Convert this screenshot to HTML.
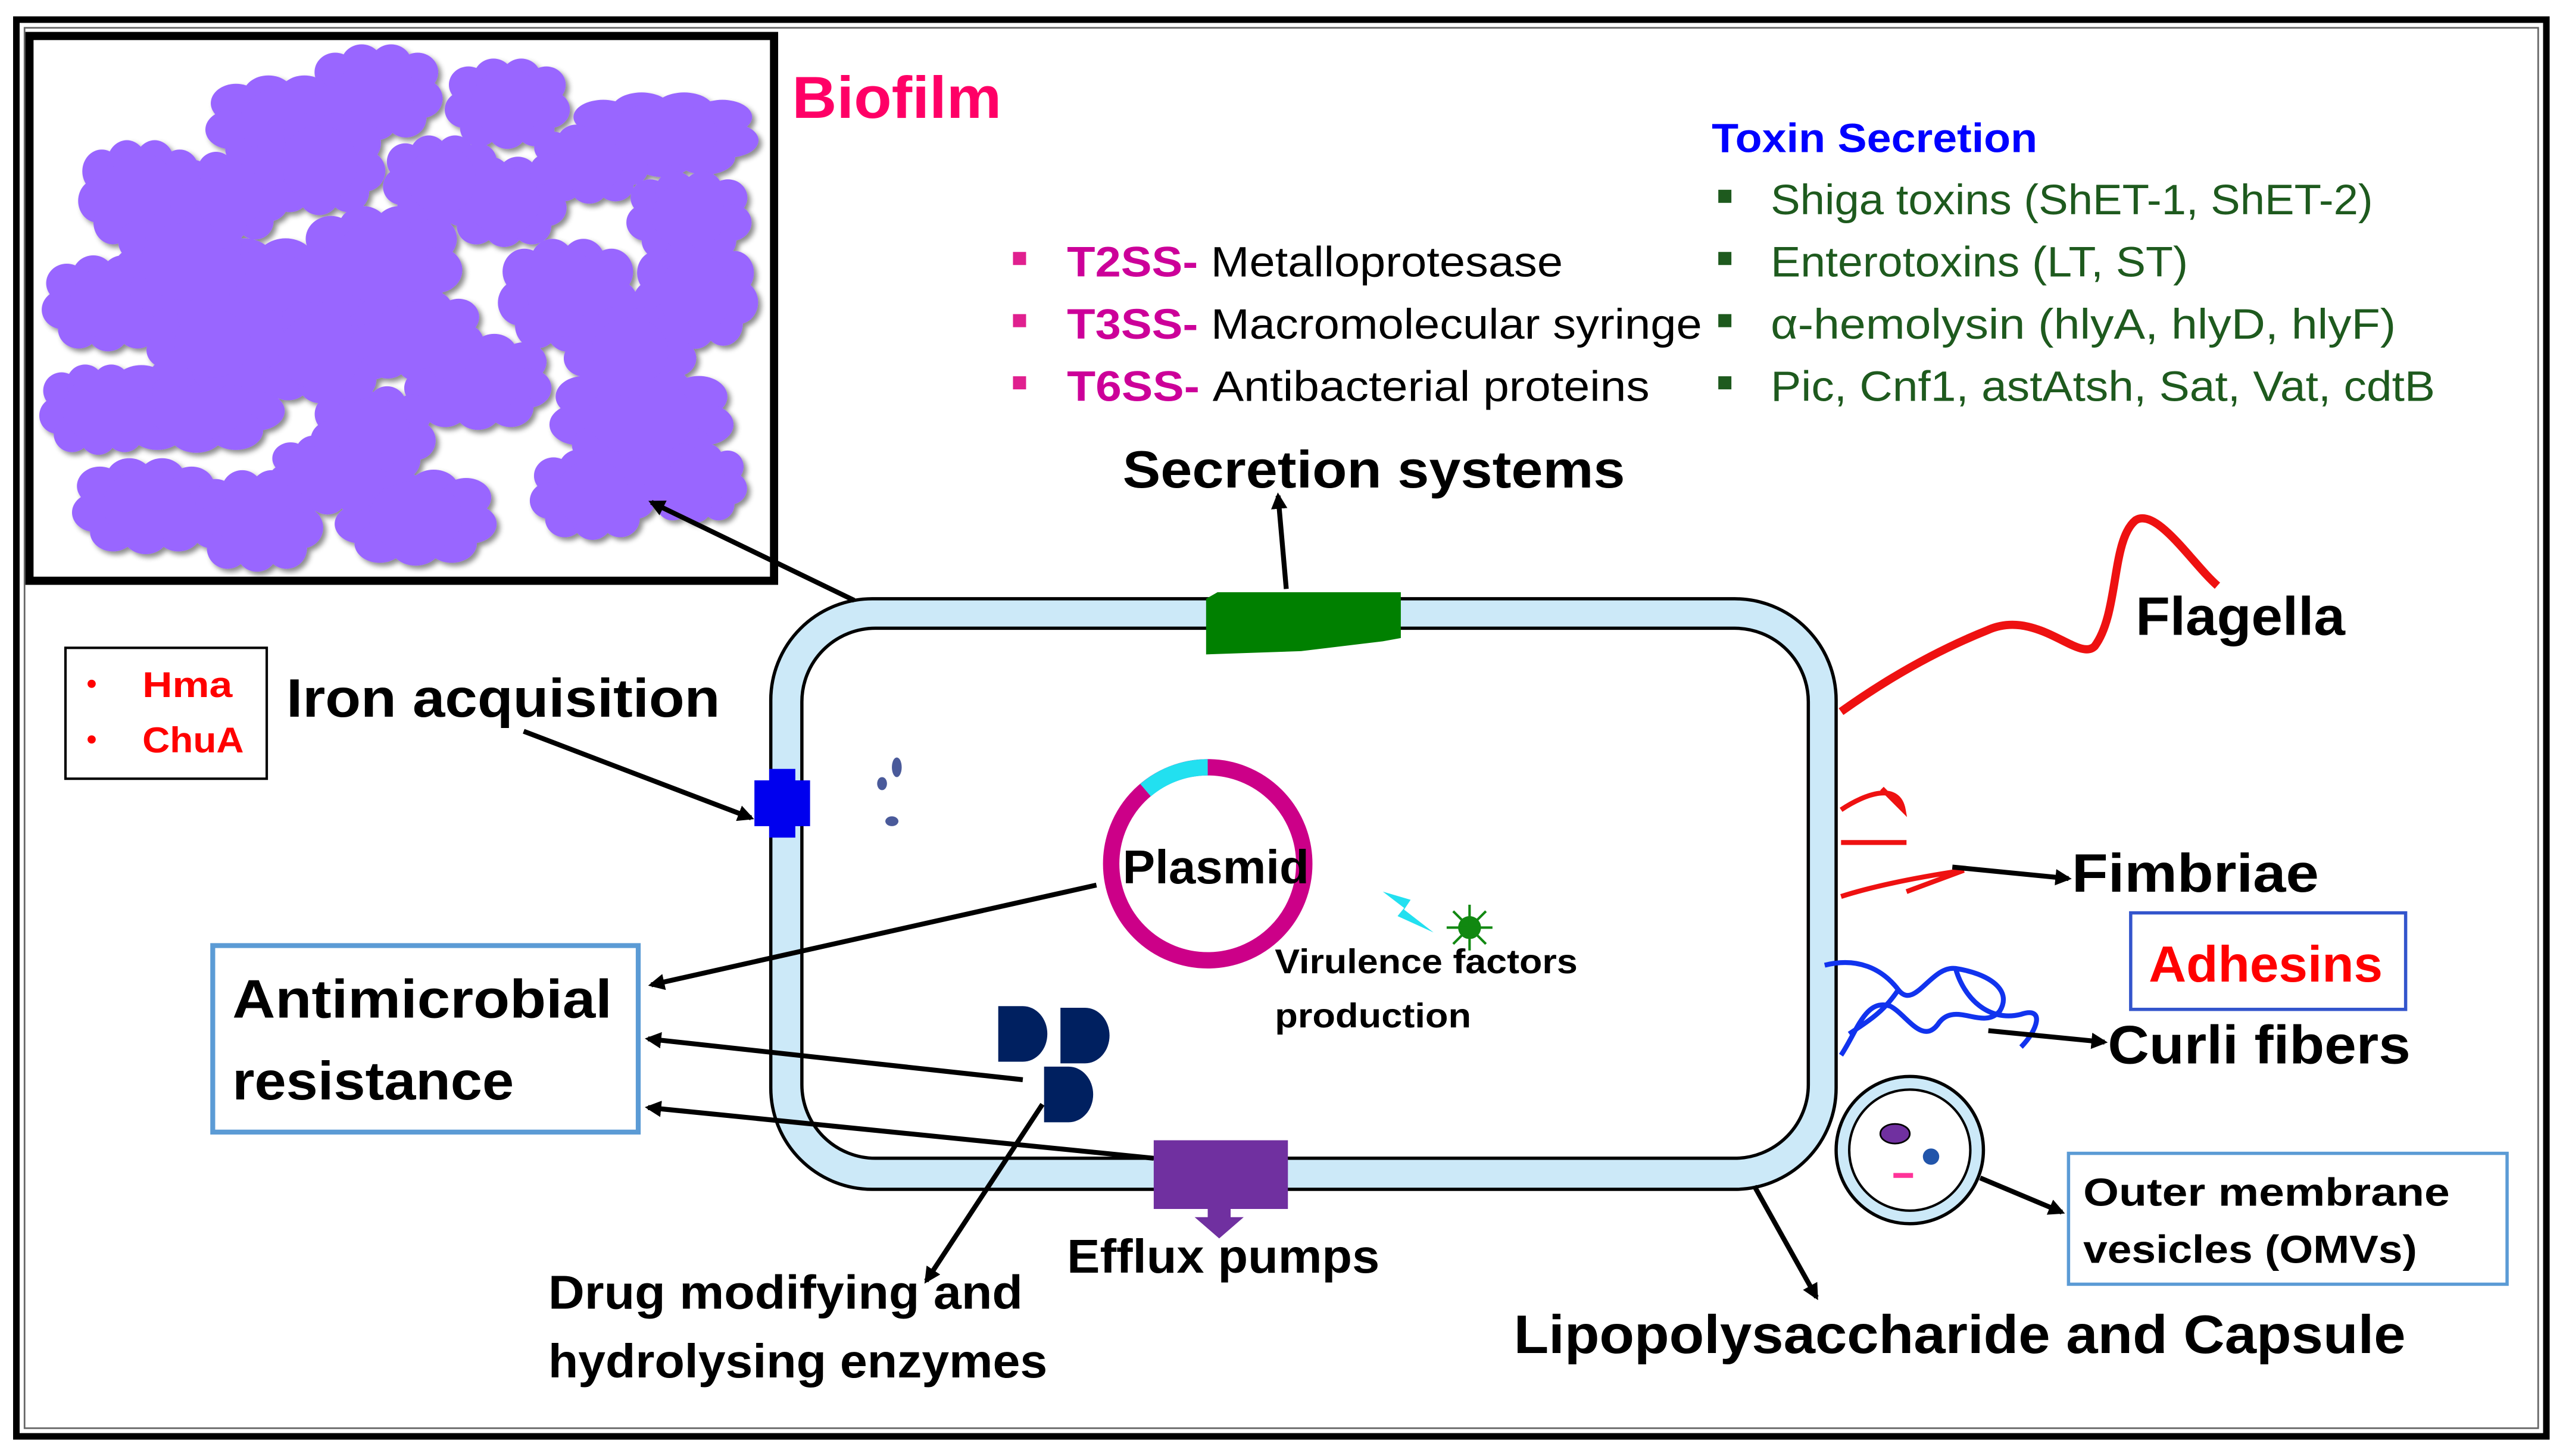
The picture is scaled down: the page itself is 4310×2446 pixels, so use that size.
<!DOCTYPE html>
<html><head><meta charset="utf-8"><style>
html,body{margin:0;padding:0;background:#fff}
svg{display:block}
text{font-family:"Liberation Sans",sans-serif}
.b{font-weight:bold}
</style></head><body>
<svg width="4310" height="2446" viewBox="0 0 1568 890" preserveAspectRatio="none" xmlns="http://www.w3.org/2000/svg">
<defs>
<marker id="ar" markerWidth="10" markerHeight="10" refX="8" refY="5" orient="auto" markerUnits="userSpaceOnUse"><path d="M0,0 L10,5 L0,10 Z" fill="#000"/></marker>
<g id="cl">
<circle cx="-28" cy="-14" r="14"/><circle cx="-10" cy="-20" r="14"/><circle cx="10" cy="-20" r="14"/><circle cx="28" cy="-14" r="14"/>
<circle cx="-31" cy="5" r="14"/><circle cx="31" cy="5" r="14"/><circle cx="-20" cy="19" r="14"/><circle cx="0" cy="21" r="14"/><circle cx="20" cy="19" r="14"/><circle cx="0" cy="0" r="26"/>
</g>
<filter id="sh" x="-20%" y="-20%" width="140%" height="140%"><feDropShadow dx="2" dy="2" stdDeviation="1.5" flood-color="#000" flood-opacity="0.45"/></filter>
</defs>
<rect x="10" y="12" width="1546" height="866" fill="#fff" stroke="#000" stroke-width="4"/>
<rect x="15" y="17" width="1536" height="856" fill="none" stroke="#666" stroke-width="1"/>
<!-- Biofilm -->
<rect x="18" y="22" width="455" height="333" fill="#fff" stroke="#000" stroke-width="5"/>
<g fill="#9966ff" filter="url(#sh)">
<use href="#cl" transform="translate(230,56) scale(0.9,0.85)"/>
<use href="#cl" transform="translate(175,75) scale(1.1,0.85)"/>
<use href="#cl" transform="translate(310,63) scale(0.85,0.8)"/>
<use href="#cl" transform="translate(405,82) scale(1.3,0.75)"/>
<use href="#cl" transform="translate(86,118) scale(0.85,0.95)"/>
<use href="#cl" transform="translate(195,100) scale(0.9,0.9)"/>
<use href="#cl" transform="translate(308,123) scale(0.85,0.8)"/>
<use href="#cl" transform="translate(421,132) scale(0.85,0.8)"/>
<use href="#cl" transform="translate(66,185) scale(0.9,0.85)"/>
<use href="#cl" transform="translate(162,178) scale(1.25,0.95)"/>
<use href="#cl" transform="translate(233,160) scale(1.1,1)"/>
<use href="#cl" transform="translate(347,180) scale(0.95,1)"/>
<use href="#cl" transform="translate(425,180) scale(0.85,0.95)"/>
<use href="#cl" transform="translate(292,233) scale(1,0.85)"/>
<use href="#cl" transform="translate(120,247) scale(1.2,0.85)"/>
<use href="#cl" transform="translate(392,255) scale(1.25,0.9)"/>
<use href="#cl" transform="translate(228,265) scale(0.85,0.85)"/>
<use href="#cl" transform="translate(89,309) scale(1,0.85)"/>
<use href="#cl" transform="translate(157,318) scale(0.9,0.9)"/>
<use href="#cl" transform="translate(254,316) scale(1.1,0.85)"/>
<use href="#cl" transform="translate(362,302) scale(0.85,0.8)"/>
<use href="#cl" transform="translate(196,215) scale(1,0.9)"/>
<use href="#cl" transform="translate(110,160) scale(0.9,0.9)"/>
<use href="#cl" transform="translate(130,210) scale(0.9,0.8)"/>
<use href="#cl" transform="translate(255,205) scale(0.9,0.8)"/>
<use href="#cl" transform="translate(385,215) scale(0.9,0.8)"/>
<use href="#cl" transform="translate(270,110) scale(0.8,0.8)"/>
<use href="#cl" transform="translate(360,100) scale(0.8,0.7)"/>
<use href="#cl" transform="translate(60,250) scale(0.8,0.8)"/>
<use href="#cl" transform="translate(425,295) scale(0.7,0.7)"/>
<use href="#cl" transform="translate(200,290) scale(0.8,0.7)"/>
<use href="#cl" transform="translate(140,120) scale(0.8,0.8)"/>
</g>
<text x="484" y="72" class="b" font-size="36" fill="#ff0066" textLength="128" lengthAdjust="spacingAndGlyphs">Biofilm</text>
<!-- Toxin secretion -->
<text x="1046" y="93" class="b" font-size="25" fill="#0000ff" textLength="199" lengthAdjust="spacingAndGlyphs">Toxin Secretion</text>
<g fill="#1e5a1e" font-size="26">
<rect x="1050" y="116" width="8" height="8"/><text x="1082" y="131" textLength="368" lengthAdjust="spacingAndGlyphs">Shiga toxins (ShET-1, ShET-2)</text>
<rect x="1050" y="154" width="8" height="8"/><text x="1082" y="169" textLength="255" lengthAdjust="spacingAndGlyphs">Enterotoxins (LT, ST)</text>
<rect x="1050" y="192" width="8" height="8"/><text x="1082" y="207" textLength="382" lengthAdjust="spacingAndGlyphs">α-hemolysin (hlyA, hlyD, hlyF)</text>
<rect x="1050" y="230" width="8" height="8"/><text x="1082" y="245" textLength="406" lengthAdjust="spacingAndGlyphs">Pic, Cnf1, astAtsh, Sat, Vat, cdtB</text>
</g>
<g font-size="26">
<rect x="619" y="154" width="8" height="8" fill="#e0208f"/><text x="652" y="169" textLength="303" lengthAdjust="spacingAndGlyphs"><tspan class="b" fill="#cc0099">T2SS- </tspan>Metalloprotesase</text>
<rect x="619" y="192" width="8" height="8" fill="#e0208f"/><text x="652" y="207" textLength="388" lengthAdjust="spacingAndGlyphs"><tspan class="b" fill="#cc0099">T3SS- </tspan>Macromolecular syringe</text>
<rect x="619" y="230" width="8" height="8" fill="#e0208f"/><text x="652" y="245" textLength="356" lengthAdjust="spacingAndGlyphs"><tspan class="b" fill="#cc0099">T6SS- </tspan>Antibacterial proteins</text>
</g>
<text x="686" y="298" class="b" font-size="32" textLength="307" lengthAdjust="spacingAndGlyphs">Secretion systems</text>
<!-- cell -->
<rect x="471" y="366" width="651" height="361" rx="62" fill="#cce9f8" stroke="#000" stroke-width="2"/>
<rect x="490" y="384" width="615" height="324" rx="45" fill="#fff" stroke="#000" stroke-width="2"/>
<path d="M737,366 L744,362 L856,362 L856,390 L845,392 L795,398 L737,400 Z" fill="#008000"/>
<line x1="786" y1="360" x2="781" y2="303" stroke="#000" stroke-width="3" marker-end="url(#ar)"/>
<line x1="522" y1="367" x2="398" y2="307" stroke="#000" stroke-width="3" marker-end="url(#ar)"/>
<!-- iron -->
<rect x="461" y="477" width="34" height="28" fill="#0000ee"/><rect x="470" y="470" width="16" height="42" fill="#0000ee"/>
<rect x="40" y="396" width="123" height="80" fill="#fff" stroke="#000" stroke-width="1.5"/>
<g fill="#ff0000" class="b" font-size="22"><circle cx="56" cy="418" r="2.5"/><text x="87" y="426" textLength="55" lengthAdjust="spacingAndGlyphs">Hma</text>
<circle cx="56" cy="452" r="2.5"/><text x="87" y="460" textLength="62" lengthAdjust="spacingAndGlyphs">ChuA</text></g>
<text x="175" y="438" class="b" font-size="33" textLength="265" lengthAdjust="spacingAndGlyphs">Iron acquisition</text>
<line x1="320" y1="447" x2="459" y2="500" stroke="#000" stroke-width="3" marker-end="url(#ar)"/>
<g fill="#4a5a9a"><ellipse cx="548" cy="469" rx="3" ry="6"/><ellipse cx="539" cy="479" rx="3" ry="4"/><ellipse cx="545" cy="502" rx="4" ry="3"/></g>
<!-- plasmid -->
<circle cx="738" cy="528" r="59" fill="#fff" stroke="#cc0088" stroke-width="10"/>
<path d="M700,483 A59,59 0 0 1 738,469" fill="none" stroke="#22e0f0" stroke-width="10"/>
<text x="686" y="540" class="b" font-size="29" textLength="114" lengthAdjust="spacingAndGlyphs">Plasmid</text>
<line x1="670" y1="541" x2="398" y2="602" stroke="#000" stroke-width="3" marker-end="url(#ar)"/>
<path d="M845,545 L862,550 L858,556 L876,570 L854,560 L858,555 Z" fill="#22e0f0"/>
<circle cx="898" cy="567" r="7" fill="#118811"/>
<g stroke="#118811" stroke-width="1.5"><line x1="898" y1="553" x2="898" y2="581"/><line x1="884" y1="567" x2="912" y2="567"/><line x1="888" y1="557" x2="908" y2="577"/><line x1="908" y1="557" x2="888" y2="577"/></g>
<text x="779" y="595" class="b" font-size="21" textLength="185" lengthAdjust="spacingAndGlyphs">Virulence factors</text>
<text x="779" y="628" class="b" font-size="21" textLength="120" lengthAdjust="spacingAndGlyphs">production</text>
<!-- D shapes -->
<g fill="#002060"><path d="M610,615 L625,615 A15,17 0 0 1 625,649 L610,649 Z"/><path d="M648,616 L663,616 A15,17 0 0 1 663,650 L648,650 Z"/><path d="M638,652 L653,652 A15,17 0 0 1 653,686 L638,686 Z"/></g>
<rect x="130" y="578" width="260" height="114" fill="#fff" stroke="#5b9bd5" stroke-width="3"/>
<text x="142" y="622" class="b" font-size="33" textLength="232" lengthAdjust="spacingAndGlyphs">Antimicrobial</text>
<text x="142" y="672" class="b" font-size="33" textLength="172" lengthAdjust="spacingAndGlyphs">resistance</text>
<line x1="625" y1="660" x2="396" y2="635" stroke="#000" stroke-width="3" marker-end="url(#ar)"/>
<line x1="705" y1="708" x2="396" y2="677" stroke="#000" stroke-width="3" marker-end="url(#ar)"/>
<!-- efflux -->
<rect x="705" y="697" width="82" height="42" fill="#7030a0"/>
<path d="M738,739 L752,739 L752,744 L760,744 L745,757 L730,744 L738,744 Z" fill="#7030a0"/>
<text x="652" y="778" class="b" font-size="29" textLength="191" lengthAdjust="spacingAndGlyphs">Efflux pumps</text>
<line x1="637" y1="675" x2="566" y2="783" stroke="#000" stroke-width="3" marker-end="url(#ar)"/>
<text x="335" y="800" class="b" font-size="29" textLength="290" lengthAdjust="spacingAndGlyphs">Drug modifying and</text>
<text x="335" y="842" class="b" font-size="29" textLength="305" lengthAdjust="spacingAndGlyphs">hydrolysing enzymes</text>
<line x1="1072" y1="725" x2="1110" y2="793" stroke="#000" stroke-width="3" marker-end="url(#ar)"/>
<text x="925" y="827" class="b" font-size="33" textLength="545" lengthAdjust="spacingAndGlyphs">Lipopolysaccharide and Capsule</text>
<!-- flagella -->
<path d="M1125,435 C1160,410 1190,395 1215,385 C1245,372 1270,405 1280,395 C1295,375 1290,330 1305,318 C1318,310 1340,345 1355,358" fill="none" stroke="#ee1111" stroke-width="5"/>
<text x="1305" y="388" class="b" font-size="33" textLength="128" lengthAdjust="spacingAndGlyphs">Flagella</text>
<!-- fimbriae -->
<g fill="none" stroke="#ee1111" stroke-width="3"><path d="M1125,495 C1140,485 1160,478 1163,495 L1150,482"/><path d="M1125,515 L1165,515"/><path d="M1125,548 C1150,540 1180,535 1200,532 L1165,545"/></g>
<line x1="1193" y1="530" x2="1264" y2="537" stroke="#000" stroke-width="3" marker-end="url(#ar)"/>
<text x="1266" y="545" class="b" font-size="33" textLength="151" lengthAdjust="spacingAndGlyphs">Fimbriae</text>
<rect x="1302" y="558" width="168" height="59" fill="#fff" stroke="#3355cc" stroke-width="2"/>
<text x="1313" y="600" class="b" font-size="31" fill="#ff0000" textLength="143" lengthAdjust="spacingAndGlyphs">Adhesins</text>
<!-- curli -->
<path d="M1115,590 C1135,585 1150,592 1160,605 C1170,618 1180,590 1195,592 C1215,595 1230,605 1222,618 C1212,630 1195,612 1185,625 C1175,640 1165,620 1155,615 C1140,610 1135,630 1125,645 M1160,605 C1150,620 1140,625 1130,632 M1195,592 C1200,610 1215,625 1235,620 C1250,615 1245,630 1235,640" fill="none" stroke="#1133ee" stroke-width="3"/>
<line x1="1215" y1="630" x2="1286" y2="637" stroke="#000" stroke-width="3" marker-end="url(#ar)"/>
<text x="1288" y="650" class="b" font-size="33" textLength="185" lengthAdjust="spacingAndGlyphs">Curli fibers</text>
<!-- OMV -->
<circle cx="1167" cy="703" r="45" fill="#cce9f8" stroke="#000" stroke-width="2"/>
<circle cx="1167" cy="703" r="37" fill="#fff" stroke="#000" stroke-width="1.5"/>
<ellipse cx="1158" cy="693" rx="9" ry="6" fill="#7030a0" stroke="#000"/>
<circle cx="1180" cy="707" r="5" fill="#2255aa"/>
<rect x="1157" y="717" width="12" height="3" fill="#ff3399"/>
<line x1="1210" y1="720" x2="1260" y2="741" stroke="#000" stroke-width="3" marker-end="url(#ar)"/>
<rect x="1264" y="705" width="268" height="80" fill="#fff" stroke="#5b9bd5" stroke-width="2"/>
<text x="1273" y="737" class="b" font-size="24" textLength="224" lengthAdjust="spacingAndGlyphs">Outer membrane</text>
<text x="1273" y="772" class="b" font-size="24" textLength="204" lengthAdjust="spacingAndGlyphs">vesicles (OMVs)</text>
</svg>
</body></html>
